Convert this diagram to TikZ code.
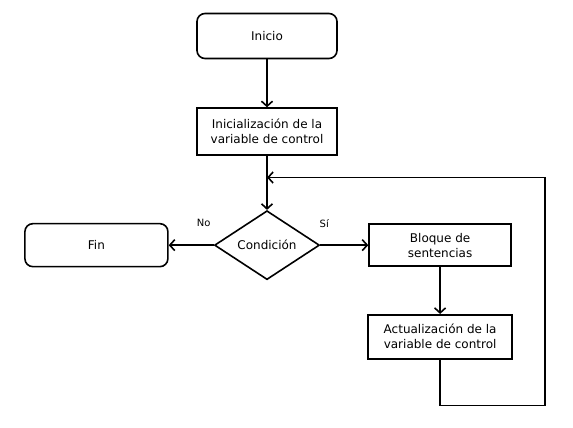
\documentclass[tikz,border=0pt]{standalone}
\usepackage{fontspec}
\setmainfont{DejaVu Sans}
\usepackage{tikz}
\usetikzlibrary{positioning,arrows.meta,shapes.geometric,calc}

\begin{document}
\begin{tikzpicture}[
    line width=1.6pt,
    >={Straight Barb[length=5pt,width=11pt,line width=1.6pt]},
    every node/.style={font=\fontsize{12}{15}\selectfont,align=center},
    terminal/.style={draw,rounded corners=8pt,minimum width=140pt,minimum height=45pt,inner sep=0pt},
    proceso/.style={draw,minimum width=142pt,minimum height=44pt,inner sep=0pt},
    decision/.style={draw,diamond,minimum width=105pt,minimum height=60pt,inner sep=0pt},
    etiqueta/.style={font=\fontsize{10}{12}\selectfont}
]
    \useasboundingbox (0,0) rectangle (573pt,-428pt);
    % Columna central: Inicio -> Inicializacion -> Condicion
    \node[terminal] (ini) at (267pt,-36pt) {Inicio};
    \node[proceso,below=48pt of ini,minimum width=140pt,minimum height=47pt] (init) {Inicialización de la\\variable de control};
    \node[decision,below=54pt of init] (cond) {Condición};
    % Ramas de la condicion
    \node[terminal,left=45pt of cond,minimum width=143pt,minimum height=43pt] (fin) {Fin};
    \node[proceso,right=48pt of cond,minimum height=42pt] (bloque) {Bloque de\\sentencias};
    \node[proceso,below=47pt of bloque,minimum width=144pt] (act) {Actualización de la\\variable de control};
    \node[etiqueta] (no) at ($(cond.west)+(-10pt,22pt)$) {No};
    \node[etiqueta] (si) at ($(cond.east)+(4pt,22pt)$) {Sí};
    % Flechas
    \coordinate (jn) at ($(init.south)!0.4!(cond.north)$);
    \foreach \x/\y in {ini/init,init/cond,bloque/act} {\draw[->] (\x.south) -- (\y.north);}
    \draw[->] (cond.west) -- (fin.east);
    \draw[->] (cond.east) -- (bloque.west);
    % Regreso del ciclo
    \draw[->] (act.south) -- ++(0,-46pt) -| ($(jn)+(278pt,0)$) -- (jn);
\end{tikzpicture}
\end{document}
